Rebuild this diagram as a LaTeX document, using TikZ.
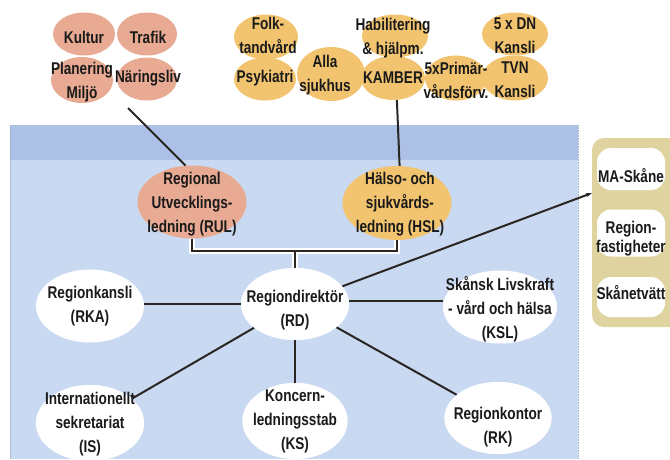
\documentclass[tikz,border=0pt]{standalone}
\usepackage{fontspec}
\setmainfont{Liberation Sans}[FakeStretch=0.8]
\usetikzlibrary{shapes.geometric,arrows.meta}
\definecolor{pinkc}{HTML}{E8AA92}
\definecolor{orangec}{HTML}{F2C470}
\definecolor{tanc}{HTML}{DFD49F}
\definecolor{bluetop}{HTML}{ADC1E6}
\definecolor{bluelow}{HTML}{C9D9F1}
\definecolor{linec}{HTML}{2A2622}
\definecolor{textc}{HTML}{1A1A1A}
\tikzset{
  ell/.style={ellipse, inner sep=0pt, draw=none},
  lbl/.style={align=center, font=\bfseries\fontsize{17}{24}\selectfont, text=textc, inner sep=0pt},
  lblsmall/.style={align=center, font=\bfseries\fontsize{17}{19}\selectfont, text=textc, inner sep=0pt},
  conn/.style={draw=linec, line width=2pt},
  halo/.style={draw=white, line width=5.5pt},
  wbox/.style={rectangle, rounded corners=14pt, fill=white, minimum width=68pt, inner sep=0pt},
}
\begin{document}
\begin{tikzpicture}[x=1pt,y=-1pt]
\useasboundingbox (0,0) rectangle (670,459);
\fill[white] (0,0) rectangle (670,459);
% panel
\fill[bluelow] (10,125) rectangle (578,459);
\fill[bluetop] (10,125) rectangle (578,160);
\draw[bluetop!70!gray, densely dotted, line width=0.6pt] (10,125) -- (10,459);
\draw[bluetop!70!gray, densely dotted, line width=0.6pt] (578,125) -- (578,459);
% tan box
\fill[tanc, rounded corners=12pt] (592,138) rectangle (690,327);
\node[wbox, minimum height=42pt] (mas) at (631,169) {};
\node[wbox, minimum height=47pt] (rfa) at (631,233) {};
\node[wbox, minimum height=40pt] (skt) at (631,297) {};
\node[lblsmall] (tmas) at (631,176) {MA-Skåne};
\node[lblsmall] (trfa) at (631,239) {Region-\\fastigheter};
\node[lblsmall] (tskt) at (631,293) {Skånetvätt};
% top pink cluster
\node[ell, fill=pinkc, minimum width=62pt, minimum height=43pt] (kul) at (84,34) {};
\node[ell, fill=pinkc, minimum width=60pt, minimum height=43pt] (tra) at (147,34) {};
\node[ell, fill=pinkc, minimum width=62pt, minimum height=46pt] (pla) at (82,80) {};
\node[ell, fill=pinkc, minimum width=60pt, minimum height=43pt] (nar) at (147,79) {};
% top orange cluster
\node[ell, fill=orangec, minimum width=64pt, minimum height=45pt] (fol) at (266,37) {};
\node[ell, fill=orangec, minimum width=62pt, minimum height=43pt] (psy) at (265,79) {};
\node[ell, fill=orangec, minimum width=68pt, minimum height=54pt] (all) at (331,74) {};
\node[ell, fill=orangec, minimum width=66pt, minimum height=43pt] (hab) at (395,36) {};
\node[ell, fill=orangec, minimum width=64pt, minimum height=44pt] (kam) at (393,78) {};
\node[ell, fill=orangec, minimum width=62pt, minimum height=45pt] (pri) at (456,78) {};
\node[ell, fill=orangec, minimum width=66pt, minimum height=43pt] (dn) at (515,34) {};
\node[ell, fill=orangec, minimum width=66pt, minimum height=45pt] (tvn) at (515,78) {};
\node[lbl] (tkul) at (84,37) {Kultur};
\node[lbl] (ttra) at (148,37) {Trafik};
\node[lbl] (tpla) at (82,82) {Planering\\Miljö};
\node[lbl] (tnar) at (148,78) {Näringsliv};
\node[lbl] (tfol) at (268,35) {Folk-\\tandvård};
\node[lbl] (tpsy) at (265,78) {Psykiatri};
\node[lbl] (tall) at (325,75) {Alla\\sjukhus};
\node[lbl] (thab) at (393,38) {Habilitering\\\& hjälpm.};
\node[lbl] (tkam) at (393,78) {KAMBER};
\node[lbl] (tpri) at (456,80) {5xPrimär-\\vårdsförv.};
\node[lbl] (tdn) at (515,36) {5 x DN\\Kansli};
\node[lbl] (ttvn) at (515,80) {TVN\\Kansli};
% main ellipses
\node[ell, fill=pinkc, minimum width=109pt, minimum height=73pt] (rul) at (192,202) {};
\node[ell, fill=orangec, minimum width=109pt, minimum height=74pt] (hsl) at (397,203) {};
\node[ell, fill=white, minimum width=108pt, minimum height=72pt] (rd) at (295,304) {};
\node[ell, fill=white, minimum width=108pt, minimum height=73pt] (rka) at (90,306) {};
\node[ell, fill=white, minimum width=114pt, minimum height=73pt] (ksl) at (500,307) {};
\node[ell, fill=white, minimum width=108pt, minimum height=76pt] (is) at (90,423) {};
\node[ell, fill=white, minimum width=105pt, minimum height=76pt] (ks) at (295,421) {};
\node[ell, fill=white, minimum width=107pt, minimum height=72pt] (rk) at (498,418) {};
% connectors
\coordinate (pinkend) at (128,108);
\coordinate (tanin) at (592,193);
\coordinate (bj) at (295,251);
\draw[conn] (pinkend) -- (rul.100);
\draw[conn] (kam.-80) -- (hsl.86);
\draw[halo] (rul.south) |- (bj) -| (hsl.south);
\draw[halo] (bj) -- (rd.north);
\draw[conn, line width=2.4pt] (rul.south) |- (bj) -| (hsl.south);
\draw[conn, line width=2.4pt] (bj) -- (rd.north);
\draw[conn] ([yshift=2pt]rka.east) -- ([yshift=2pt]rka.east -| rd.west);
\draw[conn] ([yshift=3pt]rd.east) -- ([yshift=3pt]rd.east -| ksl.west);
\draw[conn] (rd) -- (is);
\draw[conn] (rd) -- (ks);
\draw[conn] (rd) -- (rk);
\draw[conn, -{Stealth[length=6pt,width=4pt]}] (rd) -- (tanin);
% redraw white ellipses over connector ends
\node[ell, fill=white, minimum width=108pt, minimum height=72pt] (rd2) at (rd) {};
\node[ell, fill=white, minimum width=108pt, minimum height=76pt] (is2) at (is) {};
\node[ell, fill=white, minimum width=105pt, minimum height=76pt] (ks2) at (ks) {};
\node[ell, fill=white, minimum width=107pt, minimum height=72pt] (rk2) at (rk) {};
% labels
\node[lbl] (trul) at (192,204) {Regional\\Utvecklings-\\ledning (RUL)};
\node[lbl] (thsl) at (400,204) {Hälso- och\\sjukvårds-\\ledning (HSL)};
\node[lbl] (trd) at (295,310) {Regiondirektör\\(RD)};
\node[lbl] (trka) at (90,306) {Regionkansli\\(RKA)};
\node[lbl] (tksl) at (500,309) {Skånsk Livskraft\\- vård och hälsa\\(KSL)};
\node[lbl] (tis) at (90,424) {Internationellt\\sekretariat\\(IS)};
\node[lbl] (tks) at (295,421) {Koncern-\\ledningsstab\\(KS)};
\node[lbl] (trk) at (498,427) {Regionkontor\\(RK)};
\end{tikzpicture}
\end{document}
